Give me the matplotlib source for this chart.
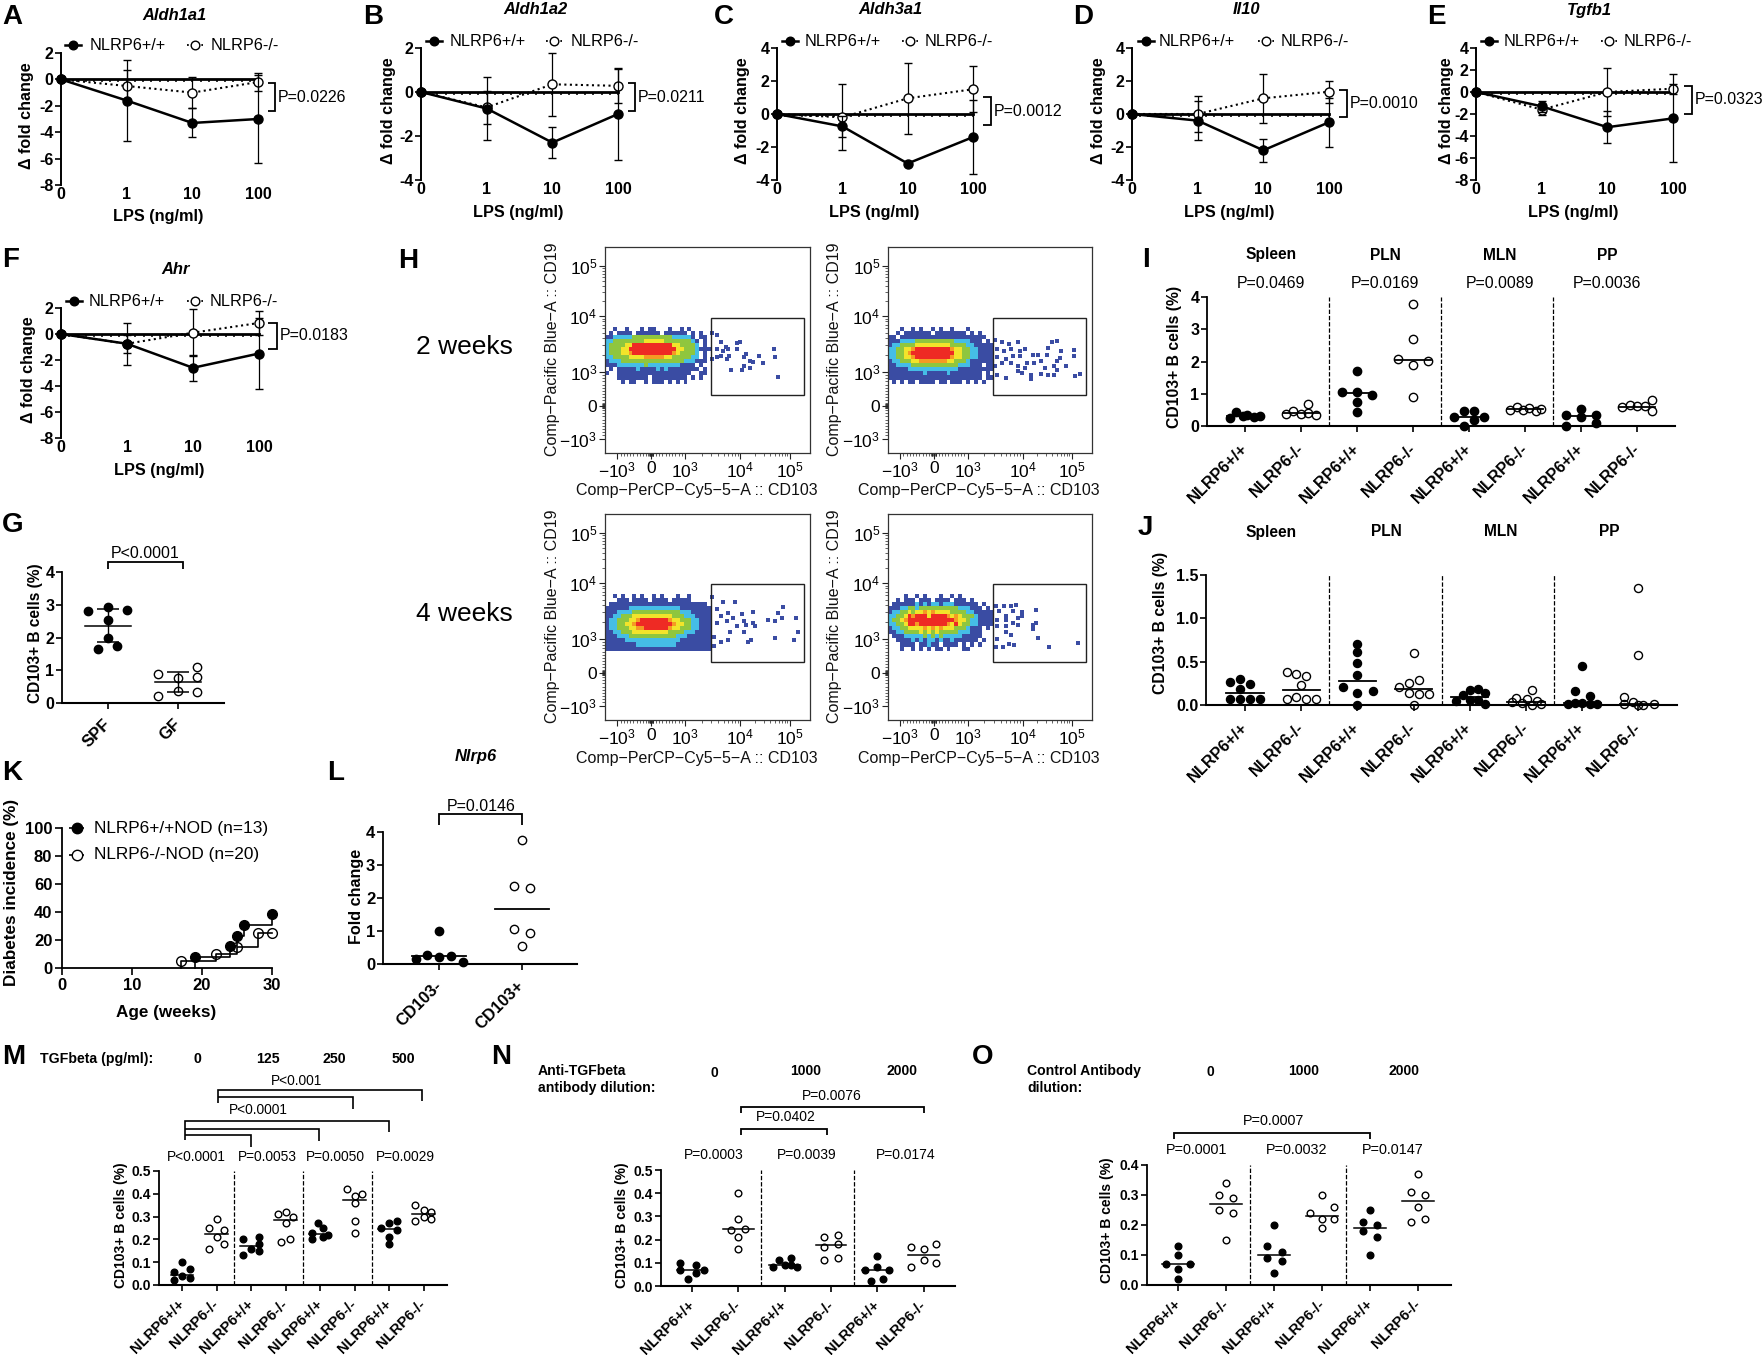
import numpy as np
import matplotlib
matplotlib.use("Agg")
import matplotlib.pyplot as plt
from matplotlib.colors import ListedColormap, BoundaryNorm
from matplotlib.lines import Line2D
from matplotlib.patches import Rectangle

plt.rcParams['font.family'] = ['Liberation Sans', 'DejaVu Sans']
plt.rcParams['mathtext.default'] = 'regular'

W = 1764
H = 1355

# LPS panels A-F
lps_doses = ['0', '1', '10', '100']
aldh1a1_wt = [0, -1.6, -3.3, -3.0]
aldh1a1_wt_err = [0, 3.05, 1.1, 3.3]
aldh1a1_ko = [0, -0.5, -1.0, -0.2]
aldh1a1_ko_err = [0, 1.2, 1.2, 0.7]
aldh1a2_wt = [0, -0.75, -2.3, -1.0]
aldh1a2_wt_err = [0, 1.42, 0.72, 2.07]
aldh1a2_ko = [0, -0.7, 0.35, 0.28]
aldh1a2_ko_err = [0, 0.75, 1.43, 0.78]
aldh3a1_wt = [0, -0.75, -3.0, -1.4]
aldh3a1_wt_err = [0, 0.65, 0.05, 2.25]
aldh3a1_ko = [0, -0.2, 0.95, 1.5]
aldh3a1_ko_err = [0, 2.0, 2.15, 1.4]
il10_wt = [0, -0.4, -2.2, -0.5]
il10_wt_err = [0, 1.2, 0.68, 1.5]
il10_ko = [0, 0, 0.95, 1.35]
il10_ko_err = [0, 1.1, 1.5, 0.68]
tgfb1_wt = [0, -1.3, -3.2, -2.4]
tgfb1_wt_err = [0, 0.5, 1.45, 4.0]
tgfb1_ko = [0, -1.6, 0, 0.3]
tgfb1_ko_err = [0, 0.5, 2.2, 0.45]
ahr_wt = [0, -0.75, -2.6, -1.5]
ahr_wt_err = [0, 1.6, 1.0, 2.7]
ahr_ko = [0, -0.75, 0.1, 0.85]
ahr_ko_err = [0, 0.7, 1.8, 0.95]

# panel G
spf_vals = [2.8, 1.65, 2.93, 2.52, 2.0, 1.75, 2.83]
spf_dx = [-0.28, -0.14, 0, 0, 0, 0.13, 0.27]
gf_vals = [0.9, 0.2, 0.75, 0.37, 1.1, 0.78, 0.33]
gf_dx = [-0.28, -0.28, 0, 0, 0.27, 0.27, 0.27]

# panel H, density levels (top row first)
density_1 = [
    "..1..1...1.11...1..1.1.....",
    ".1.1111.111111.111111.1.1..",
    "11222223333333333222221.11.",
    "223333333344444333333321.1.",
    "233334466666666664433332.1.",
    "233344666666666666443332111",
    "233344566666666665433332.1.",
    "223333444455555443333322.1.",
    "12223333333333333333222111.",
    "11122222223222222221111.1..",
    ".1.111112111121211111111.1.",
    "1..1111111111111111111..11.",
    "...11111111.111111111.1.1..",
    "....1.11..1.111.1.1.1......",
]
density_2 = [
    "...1..1.1..1.1..1...1......",
    "..1.1111111.11111111.1.1...",
    "11.1111111111111111111111..",
    "111222233333333332222111.1.",
    "122333344444444433332211111",
    "223344566666666654433221111",
    "223345666666666664433221111",
    "223344566666666654433221111",
    "122333445555555443332111111",
    "112222333333333333222111.11",
    "111112222222222222111111111",
    "111111111211111211111111.1.",
    "111111111111111111111111.11",
    ".1.1.11.1111.11.111.1.1.1..",
]
density_3 = [
    "..1.1..1.1..1.1...1..1.....",
    "...111.1111.1111.11111.....",
    ".1111111111111111111111111.",
    "111111222222222222211111111",
    "111222233333333333322211111",
    "112233344444444443332221111",
    "122333445666666654433322111",
    "122334456666666665443322111",
    "122333445566666654433322111",
    "112233344444444433332221111",
    "111222333333333333222111111",
    "111112222222222222211111111",
    "111111112222222222111111111",
    "111111111111111111111111111",
]
density_4 = [
    "....1..1.1...1..1.1........",
    "..1.111.111.1111.111.1.....",
    ".1111112121221222111111.1..",
    "111223323333333333222111.1.",
    "122334344545444433332211111",
    "223346566646666545433321111",
    "233456666666666665443221111",
    "223346656666666546433221111",
    "122334444545454443332111.1.",
    "112233334343433333222111...",
    ".11122222323232222211111...",
    "..111121212212112111111.1..",
    "...1111.11211.1111.1.1.1...",
    "...1..1.1.1.11.1...11......",
]
flow_x_1 = [521, 548, 566, 588, 644, 660, 544, 577, 600, 566, 593, 644, 678, 689, 749, 705, 723, 772, 823, 828, 615, 667, 678, 705, 846, 544, 521, 606]
flow_y_1 = [581, 573, 539, 514, 534, 539, 506, 497, 506, 472, 456, 506, 464, 481, 472, 447, 444, 439, 503, 467, 405, 405, 422, 414, 369, 464, 456, 472]
flow_x_2 = [524, 557, 591, 636, 535, 569, 602, 647, 670, 535, 580, 613, 647, 524, 557, 602, 636, 670, 681, 710, 737, 715, 748, 782, 804, 827, 849, 778, 845, 827, 816, 872, 912, 912, 771, 827, 917, 939, 658, 703, 748, 782, 535, 580, 636, 703, 816]
flow_y_2 = [548, 539, 531, 539, 506, 497, 506, 497, 506, 464, 456, 472, 472, 422, 439, 439, 422, 414, 439, 477, 477, 439, 447, 511, 539, 544, 494, 477, 459, 447, 422, 422, 501, 472, 414, 405, 372, 384, 389, 380, 384, 377, 380, 363, 397, 360, 377]
flow_x_3 = [521, 577, 633, 544, 566, 600, 622, 667, 723, 678, 723, 689, 644, 593, 544, 611, 678, 734, 796, 830, 846, 868, 861, 931, 940, 830, 924, 711, 696, 600, 566, 532, 532]
flow_y_3 = [597, 571, 571, 538, 504, 521, 496, 513, 526, 479, 471, 462, 454, 479, 471, 429, 429, 454, 484, 479, 521, 550, 496, 496, 429, 400, 390, 387, 378, 390, 378, 361, 403]
flow_x_4 = [530, 569, 602, 629, 546, 580, 613, 658, 726, 535, 580, 636, 658, 535, 580, 613, 636, 710, 726, 710, 580, 602, 737, 535, 591, 620, 530, 562, 789, 930]
flow_y_4 = [555, 555, 551, 558, 529, 504, 529, 524, 534, 487, 487, 496, 504, 454, 454, 471, 462, 462, 471, 440, 429, 412, 400, 395, 370, 365, 353, 356, 353, 375]
flow_tick_x = [60, 224, 390, 660, 900]
flow_tick_y = [70, 229, 394, 665, 908]
flow_x_labels = ['$-10^{3}$', '0', '$10^{3}$', '$10^{4}$', '$10^{5}$']

# panel I
tissues = ['Spleen', 'PLN', 'MLN', 'PP']
genotypes = ['NLRP6+/+', 'NLRP6-/-']
i_vals = [
    [.25, .42, .3, .33, .27, .3],
    [.37, .47, .37, .4, .67, .33],
    [1.05, 1.72, 1.05, .75, .95, .43],
    [2.08, 3.78, 2.7, 1.88, 2.03, .9],
    [.27, .45, 0, .47, .27, .2],
    [.5, .6, .5, .55, .47, .52],
    [.35, 0, .53, .28, .35, .08],
    [.58, .65, .62, .62, .82, .47],
]
i_dx = [
    [-.27, -.16, -.04, .04, .16, .26],
    [-.27, -.14, 0, .13, .13, .26],
    [-.27, 0, 0, 0, .26, 0],
    [-.26, 0, 0, 0, .27, 0],
    [-.26, -.09, -.09, .09, .26, .09],
    [-.27, -.14, -.03, .08, .19, .28],
    [-.26, -.26, 0, 0, .27, .27],
    [-.27, -.13, 0, .14, .27, .27],
]
i_medians = [.3, .4, 1.02, 2.05, .27, .52, .31, .6]
i_pvals = ['P=0.0469', 'P=0.0169', 'P=0.0089', 'P=0.0036']

# panel J
j_vals = [
    [.27, .3, .24, .19, .07, .07, .07, .07],
    [.38, .36, .33, .23, .07, .09, .07, .07],
    [.7, .61, .48, .35, .21, .14, .16, 0],
    [.6, .29, .25, .21, .14, .13, .13, 0],
    [.05, .11, .17, .19, .14, .06, .06, .01],
    [.17, .08, .07, .05, .03, .02, 0, .01],
    [.45, .16, .1, .01, .02, .02, .01, .01],
    [1.35, .58, .09, .01, .03, 0, 0, .01],
]
j_dx = [
    [-.26, -.09, .09, -.09, -.26, -.09, .09, .27],
    [-.26, -.09, .09, 0, -.26, -.09, .09, .26],
    [0, 0, 0, 0, -.26, 0, .27, 0],
    [0, .09, -.09, -.26, -.09, .09, .27, 0],
    [-.25, -.12, 0, .14, .27, 0, .14, .27],
    [.1, -.17, .01, .19, -.25, -.07, .1, .27],
    [0, -.13, .14, -.26, -.13, 0, .14, .27],
    [0, 0, -.26, -.26, -.09, 0, .09, .27],
]
j_medians = [.14, .17, .28, .19, .09, .03, .02, .01]

# panel K
wt_age = [19, 24, 25, 26, 30]
wt_incidence = [7.7, 15.4, 23.1, 30.8, 38.5]
ko_age = [17, 22, 25, 28, 30]
ko_incidence = [5, 10, 15, 25, 25]

# panel L
cd103_neg = [.14, .28, .22, 1.0, .23, .07]
cd103_neg_dx = [-.28, -.14, 0, 0, .14, .29]
cd103_pos = [3.75, 2.35, 2.29, 1.05, .93, .54]
cd103_pos_dx = [0, -.1, .1, -.1, .1, 0]
cd103_lines = [.24, 1.67]

# panel M
m_vals = [
    [.1, .055, .07, .04, .02, .03],
    [.29, .25, .24, .21, .18, .16],
    [.2, .21, .18, .16, .15, .13],
    [.31, .32, .3, .27, .2, .19],
    [.27, .23, .25, .2, .21, .22],
    [.42, .4, .39, .36, .28, .23],
    [.25, .27, .28, .24, .21, .18],
    [.35, .33, .32, .3, .28, .29],
]
m_dx = [
    [0, -.23, .23, 0, -.23, .23],
    [0, -.23, .23, 0, .23, -.23],
    [-.23, .23, .23, 0, .23, -.23],
    [-.23, 0, .23, 0, .12, -.12],
    [-.07, -.23, .09, -.23, .09, .24],
    [-.22, .23, 0, 0, 0, 0],
    [-.23, 0, .24, .24, 0, 0],
    [-.24, 0, .23, 0, -.24, .23],
]
m_medians = [.045, .225, .17, .285, .225, .375, .245, .31]
m_pvals = ['P<0.0001', 'P=0.0053', 'P=0.0050', 'P=0.0029']
m_doses = ['0', '125', '250', '500']

# panel N
n_vals = [
    [.1, .09, .07, .07, .055, .03],
    [.4, .29, .24, .245, .21, .16],
    [.11, .12, .08, .09, .09, .08],
    [.21, .22, .17, .18, .11, .12],
    [.13, .07, .08, .07, .02, .03],
    [.17, .16, .18, .11, .1, .08],
]
n_dx = [
    [-.26, .09, -.26, .26, .09, -.09],
    [0, 0, -.15, .15, 0, 0],
    [-.13, .13, -.26, 0, .13, .26],
    [-.15, .15, -.15, .15, -.15, .15],
    [0, -.26, 0, .26, -.13, .13],
    [-.26, 0, .26, 0, .26, -.26],
]
n_medians = [.07, .245, .09, .175, .07, .135]
n_pvals = ['P=0.0003', 'P=0.0039', 'P=0.0174']

# panel O
o_vals = [
    [.13, .1, .07, .07, .055, .02],
    [.34, .3, .29, .25, .24, .15],
    [.2, .13, .11, .09, .08, .04],
    [.3, .26, .24, .22, .22, .19],
    [.25, .21, .2, .18, .16, .1],
    [.37, .31, .3, .26, .22, .21],
]
o_dx = [
    [0, 0, -.26, .26, 0, 0],
    [0, -.15, .15, -.15, .15, 0],
    [0, -.15, .16, -.15, .16, 0],
    [0, .26, -.26, 0, .26, 0],
    [0, -.15, .15, -.15, .15, 0],
    [0, -.15, .15, 0, .15, -.15],
]
o_medians = [.07, .27, .1, .23, .19, .28]
o_pvals = ['P=0.0001', 'P=0.0032', 'P=0.0147']
dilutions = ['0', '1000', '2000']

fig = plt.figure(figsize=(W / 100, H / 100), dpi=100, facecolor='white')


def add_ax(left, top, right, bottom):
    ax = fig.add_axes([left / W, 1 - bottom / H, (right - left) / W, (bottom - top) / H])
    ax.patch.set_alpha(0)
    return ax


def txt(x, y, s, size=11.5, weight='normal', ha='center', va='center', **kw):
    fig.text(x / W, 1 - y / H, s, fontsize=size, fontweight=weight, ha=ha, va=va, **kw)


def seg(xs, ys, lw=1.2, **kw):
    fig.add_artist(Line2D([x / W for x in xs], [1 - y / H for y in ys], color='k', lw=lw,
                          solid_joinstyle='miter', solid_capstyle='butt', **kw))


def bracket(x0, x1, y, d0, d1=None, lw=1.3):
    if d1 is None:
        d1 = d0
    seg([x0, x0, x1, x1], [y + d0, y, y, y + d1], lw=lw)


def set_ylabel_px(ax, box, s, x, y, size):
    ax.set_ylabel(s, fontsize=size, fontweight='bold', va='center')
    ax.yaxis.set_label_coords((x - box[0]) / (box[2] - box[0]), (box[3] - y) / (box[3] - box[1]))


def letter(x, y, s):
    txt(x, y, s, size=20, weight='bold', ha='left')


def legend_pair(y, m1, t1, m2, t2):
    fig.add_artist(Line2D([(m1 - 8) / W, (m1 + 8) / W], [1 - y / H] * 2, color='k', lw=1.8))
    fig.add_artist(Line2D([m1 / W], [1 - y / H], color='k', marker='o', ms=6.2))
    fig.add_artist(Line2D([(m2 - 8) / W, (m2 + 8) / W], [1 - y / H] * 2, color='k', lw=1.3, ls=':'))
    fig.add_artist(Line2D([m2 / W], [1 - y / H], color='k', marker='o', ms=6.2, mfc='white', mew=1))
    txt(t1, y, 'NLRP6+/+', ha='left', size=11.7)
    txt(t2, y, 'NLRP6-/-', ha='left', size=11.7)


def lps_panel(box, ylim, yticks, wt, wt_err, ko, ko_err, title, title_xy, ylab_x, legend, brk, p):
    ax = add_ax(*box)
    xs = np.arange(len(lps_doses))
    ax.errorbar(xs, ko, yerr=ko_err, color='k', lw=1.5, ls=':', marker='o', ms=6.5, mfc='white',
                mew=1, elinewidth=0.9, capsize=3, capthick=1, clip_on=False, zorder=3)
    ax.errorbar(xs, wt, yerr=wt_err, color='k', lw=1.8, marker='o', ms=6.5, elinewidth=0.9,
                capsize=3, capthick=1, clip_on=False, zorder=4)
    ax.set_xlim(0, 3)
    ax.set_ylim(*ylim)
    ax.set_yticks(yticks)
    ax.set_yticklabels([str(v) for v in yticks], fontsize=11.5, fontweight='bold')
    for side in ['top', 'right']:
        ax.spines[side].set_visible(False)
    ax.spines['left'].set_linewidth(1.4)
    ax.spines['bottom'].set_position(('data', 0))
    ax.spines['bottom'].set_linewidth(2.0)
    ax.set_xticks(np.arange(0, 3.01, 0.125))
    ax.set_xticklabels([])
    ax.tick_params(axis='x', length=2.4, width=1.1, direction='out')
    ax.tick_params(axis='y', length=4, width=1.2, pad=1.5)
    ax_h = box[3] - box[1]
    for x, lab in zip(xs, lps_doses):
        ax.text(x, -9.5 / ax_h, lab, transform=ax.get_xaxis_transform(), ha='center', va='center',
                fontsize=11.5, fontweight='bold')
    txt((box[0] + box[2]) / 2 - 1, box[3] + 32, 'LPS (ng/ml)', size=11.7, weight='bold')
    set_ylabel_px(ax, box, '\u0394 fold change', ylab_x, (box[1] + box[3]) / 2 - 3, 11.6)
    txt(title_xy[0], title_xy[1], title, size=11.9, weight='bold', style='italic')
    legend_pair(*legend)
    seg([brk[0], brk[1], brk[1], brk[0]], [brk[2], brk[2], brk[3], brk[3]], lw=1.3)
    txt(brk[1] + 3, (brk[2] + brk[3]) / 2, p, ha='left', size=11.5)


lps_panel((61, 53, 258, 185), (-8, 2), [2, 0, -2, -4, -6, -8], aldh1a1_wt, aldh1a1_wt_err, aldh1a1_ko,
          aldh1a1_ko_err, 'Aldh1a1', (174, 15), 27, (45, 73, 90, 195, 211), (268, 275, 83, 111), 'P=0.0226')
lps_panel((421, 48, 618, 180), (-4, 2), [2, 0, -2, -4], aldh1a2_wt, aldh1a2_wt_err, aldh1a2_ko,
          aldh1a2_ko_err, 'Aldh1a2', (535, 10), 388, (41, 434, 450, 554, 571), (628, 635, 83, 111), 'P=0.0211')
lps_panel((777, 48, 973, 180), (-4, 4), [4, 2, 0, -2, -4], aldh3a1_wt, aldh3a1_wt_err, aldh3a1_ko,
          aldh3a1_ko_err, 'Aldh3a1', (890, 10), 743, (41, 790, 805, 910, 925), (983, 991, 97, 125), 'P=0.0012')
lps_panel((1132, 48, 1329, 180), (-4, 4), [4, 2, 0, -2, -4], il10_wt, il10_wt_err, il10_ko,
          il10_ko_err, 'Il10', (1246, 10), 1098, (41, 1146, 1159, 1266, 1281), (1339, 1347, 90, 117), 'P=0.0010')
lps_panel((1476, 48, 1673, 180), (-8, 4), [4, 2, 0, -2, -4, -6, -8], tgfb1_wt, tgfb1_wt_err, tgfb1_ko,
          tgfb1_ko_err, 'Tgfb1', (1589, 10), 1446, (41, 1489, 1504, 1609, 1624), (1684, 1692, 86, 114), 'P=0.0323')
lps_panel((61, 308, 259, 438), (-8, 2), [2, 0, -2, -4, -6, -8], ahr_wt, ahr_wt_err, ahr_ko,
          ahr_ko_err, 'Ahr', (176, 269), 28, (301, 74, 89, 195, 210), (268, 277, 323, 349), 'P=0.0183')

for x, y, s in [(2, 17, 'A'), (363, 17, 'B'), (714, 17, 'C'), (1073, 17, 'D'), (1427, 17, 'E'), (2, 260, 'F'),
                (2, 525, 'G'), (398, 261, 'H'), (1142, 260, 'I'), (1138, 528, 'J'), (2, 773, 'K'), (327, 773, 'L'),
                (2, 1057, 'M'), (491, 1057, 'N'), (972, 1057, 'O')]:
    letter(x, y, s)


def dot_panel(box, ticks0, spacing, ylim, yticks, ylabels, vals, dx, medians, labels, dividers, tick_size,
              lab_size, ms, lw=1.3, half=0.33, lab_pad=8.5):
    ax = add_ax(*box)
    for i, (ys, off) in enumerate(zip(vals, dx)):
        filled = i % 2 == 0
        ax.plot(i + np.array(off), ys, ls='none', marker='o', ms=ms, mew=1.0, color='k',
                mfc='k' if filled else 'none', clip_on=False, zorder=3)
        ax.plot([i - half, i + half], [medians[i], medians[i]], color='k', lw=lw, zorder=4)
    for d in dividers:
        ax.axvline(d, color='k', lw=0.9, ls=(0, (3.5, 1.5)), ymin=0, ymax=1)
    ax.set_xlim((box[0] - ticks0) / spacing, (box[2] - ticks0) / spacing)
    ax.set_ylim(*ylim)
    ax.set_yticks(yticks)
    ax.set_yticklabels(ylabels, fontsize=tick_size, fontweight='bold')
    ax.set_xticks(range(len(labels)))
    ax.set_xticklabels(labels, rotation=45, ha='right', va='center', rotation_mode='anchor',
                       fontsize=lab_size, fontweight='bold')
    for side in ['top', 'right']:
        ax.spines[side].set_visible(False)
    ax.spines['left'].set_linewidth(1.3)
    ax.spines['bottom'].set_linewidth(1.5)
    ax.tick_params(axis='y', length=4, width=1.2, pad=1.5)
    ax.tick_params(axis='x', length=4, width=1.2, pad=lab_pad)
    return ax


# panel G
box = (62, 572, 224, 703)
ax = add_ax(*box)
ax.plot(np.array(spf_dx), spf_vals, 'o', color='k', ms=6, clip_on=False, zorder=3)
ax.plot(1 + np.array(gf_dx), gf_vals, 'o', color='k', mfc='none', ms=6, mew=1, clip_on=False, zorder=3)
ax.errorbar([0], [np.mean(spf_vals)], yerr=[np.std(spf_vals)], color='k', elinewidth=1, capsize=8, capthick=1.1)
ax.errorbar([1], [np.mean(gf_vals)], yerr=[np.std(gf_vals)], color='k', elinewidth=1, capsize=8, capthick=1.1)
ax.plot([-.33, .33], [np.mean(spf_vals)] * 2, color='k', lw=1.1)
ax.plot([1 - .33, 1 + .33], [np.mean(gf_vals)] * 2, color='k', lw=1.1)
ax.set_xlim((62 - 108) / 70, (224 - 108) / 70)
ax.set_ylim(0, 4)
ax.set_yticks([0, 1, 2, 3, 4])
ax.set_yticklabels(['0', '1', '2', '3', '4'], fontsize=11.5, fontweight='bold')
ax.set_xticks([0, 1])
ax.set_xticklabels(['SPF', 'GF'], rotation=45, ha='right', va='center', rotation_mode='anchor',
                   fontsize=12, fontweight='bold')
for side in ['top', 'right']:
    ax.spines[side].set_visible(False)
ax.spines['left'].set_linewidth(1.3)
ax.spines['bottom'].set_linewidth(1.5)
ax.tick_params(axis='y', length=4, width=1.2, pad=1.5)
ax.tick_params(axis='x', length=4, width=1.2, pad=9.5)
set_ylabel_px(ax, box, 'CD103+ B cells (%)', 36, 633, 11.2)
bracket(108, 183, 562, 7)
txt(145, 554, 'P<0.0001')

# panel H
density_cmap = ListedColormap(['#ffffff', '#3a4ca3', '#45bde6', '#8fc63e', '#f2e42a', '#f59a23', '#ee2a24'])
density_norm = BoundaryNorm(np.arange(-0.5, 7.5, 1), density_cmap.N)


def flow_panel(box, density, xs, ys, gate_top):
    ax = add_ax(*box)
    grid = np.array([[0 if c == '.' else int(c) for c in row.ljust(27, '.')] for row in density[::-1]])
    ax.pcolormesh(np.linspace(0, 517, 28), np.linspace(337, 612, 15), grid, cmap=density_cmap, norm=density_norm,
                  rasterized=True)
    ax.scatter(xs, ys, marker='s', s=5, color='#3a4ca3', lw=0)
    ax.add_patch(Rectangle((517, 282), 454, gate_top - 282, fill=False, ec='#222222', lw=1.0))
    ax.set_xlim(0, 1000)
    ax.set_ylim(0, 1000)
    ax.set_xticks(flow_tick_x)
    ax.set_xticklabels(flow_x_labels, fontsize=12.5)
    ax.set_yticks(flow_tick_y)
    ax.set_yticklabels(flow_x_labels, fontsize=12.5)
    minor_x = []
    minor_y = []
    for ticks, out in [(flow_tick_x, minor_x), (flow_tick_y, minor_y)]:
        for a, b in zip(ticks[2:-1], ticks[3:]):
            out.extend(a + (b - a) * np.log10(np.arange(2, 10)))
        out.extend(np.linspace(ticks[0], ticks[2], 22))
        out.extend(ticks[1] + np.arange(-12, 13, 3))
    ax.set_xticks(minor_x, minor=True)
    ax.set_yticks(minor_y, minor=True)
    ax.tick_params(axis='both', which='major', length=4, width=0.8, pad=1.5, color='#222222')
    ax.tick_params(axis='both', which='minor', length=2, width=0.5, color='#222222')
    for sp in ax.spines.values():
        sp.set_linewidth(0.9)
        sp.set_color('#333333')
    txt((box[0] + box[2]) / 2 - 11, box[3] + 38, 'Comp\u2212PerCP\u2212Cy5\u22125\u2212A :: CD103', size=11.5, color='#111111')
    txt(box[0] - 53, (box[1] + box[3]) / 2 - 1, 'Comp\u2212Pacific Blue\u2212A :: CD19', size=11.5, rotation=90,
        color='#111111')


flow_panel((605, 247, 810, 453), density_1, flow_x_1, flow_y_1, 655)
flow_panel((888, 247, 1092, 453), density_2, flow_x_2, flow_y_2, 655)
flow_panel((605, 514, 810, 720), density_3, flow_x_3, flow_y_3, 660)
flow_panel((888, 514, 1092, 720), density_4, flow_x_4, flow_y_4, 660)
txt(464, 347, '2 weeks', size=19)
txt(464, 614, '4 weeks', size=19)

# panel I
box = (1207, 297, 1675, 426)
ax = dot_panel(box, 1245, 56, (0, 4), [0, 1, 2, 3, 4], ['0', '1', '2', '3', '4'], i_vals, i_dx, i_medians,
               genotypes * 4, [1.5, 3.5, 5.5], 11.5, 11.8, 6, lab_pad=10.5)
set_ylabel_px(ax, box, 'CD103+ B cells (%)', 1174, 357, 11.3)
for x, t, p in zip([1271, 1385, 1500, 1607], tissues, i_pvals):
    txt(x, 255, t, size=11.2, weight='bold')
    txt(x, 284, p, size=11.4)

# panel J
box = (1206, 575, 1677, 705)
ax = dot_panel(box, 1245, 56.2, (0, 1.5), [0, .5, 1, 1.5], ['0.0', '0.5', '1.0', '1.5'], j_vals, j_dx, j_medians,
               genotypes * 4, [1.5, 3.5, 5.5], 11.5, 11.8, 5.8, lab_pad=10.5)
set_ylabel_px(ax, box, 'CD103+ B cells (%)', 1160, 623, 11.3)
for x, t in zip([1271, 1386, 1501, 1609], tissues):
    txt(x, 532, t, size=11.2, weight='bold')

# panel K
box = (62, 828, 272, 968)
ax = add_ax(*box)
ax.step([wt_age[0]] + wt_age, [0] + wt_incidence, where='post', color='k', lw=1.2, clip_on=False)
ax.step([ko_age[0]] + ko_age, [0] + ko_incidence, where='post', color='k', lw=1.2, clip_on=False)
ax.plot(wt_age, wt_incidence, 'o', color='k', ms=7, ls='none', clip_on=False, zorder=3)
ax.plot(ko_age, ko_incidence, 'o', color='k', mfc='none', mew=1, ms=7, ls='none', clip_on=False, zorder=4)
ax.set_xlim(0, 30)
ax.set_ylim(0, 100)
ax.set_xticks([0, 10, 20, 30])
ax.set_xticklabels(['0', '10', '20', '30'], fontsize=12, fontweight='bold')
ax.set_yticks([0, 20, 40, 60, 80, 100])
ax.set_yticklabels(['0', '20', '40', '60', '80', '100'], fontsize=12, fontweight='bold')
for side in ['top', 'right']:
    ax.spines[side].set_visible(False)
ax.spines['left'].set_linewidth(1.3)
ax.spines['bottom'].set_linewidth(1.3)
ax.tick_params(length=5, width=1.2, pad=2)
set_ylabel_px(ax, box, 'Diabetes incidence (%)', 11.5, 892, 12.3)
txt(166, 1012, 'Age (weeks)', size=12.3, weight='bold')
seg([69, 84], [828, 828], lw=1.2)
fig.add_artist(Line2D([76.5 / W], [1 - 828 / H], marker='o', ms=7.5, color='k'))
seg([69, 84], [855, 855], lw=1.2)
fig.add_artist(Line2D([76.5 / W], [1 - 855 / H], marker='o', ms=7.5, color='k', mfc='white', mew=1))
txt(94, 828, 'NLRP6+/+NOD (n=13)', ha='left', size=12.4)
txt(94, 855, 'NLRP6-/-NOD (n=20)', ha='left', size=12.4)

# panel L
box = (383, 832, 577, 964)
ax = dot_panel(box, 439, 83, (0, 4), [0, 1, 2, 3, 4], ['0', '1', '2', '3', '4'], [cd103_neg, cd103_pos],
               [cd103_neg_dx, cd103_pos_dx], cd103_lines, ['CD103-', 'CD103+'], [], 12, 12, 6, half=0.33, lab_pad=10)
set_ylabel_px(ax, box, 'Fold change', 356, 896, 11.6)
txt(476, 756, 'Nlrp6', size=11.9, weight='bold', style='italic')
bracket(439, 522, 814, 11)
txt(481, 806, 'P=0.0146')

# panel M
box = (159, 1171, 447, 1285)
ax = dot_panel(box, 182, 34.5, (0, .5), [0, .1, .2, .3, .4, .5], ['0.0', '0.1', '0.2', '0.3', '0.4', '0.5'], m_vals,
               m_dx, m_medians, genotypes * 4, [1.5, 3.5, 5.5], 10, 10.6, 4.8, lw=1.1)
set_ylabel_px(ax, box, 'CD103+ B cells (%)', 121, 1225, 10)
txt(40, 1059, 'TGFbeta (pg/ml):', size=10.2, weight='bold', ha='left')
for x, d in zip([197, 268, 334, 403], m_doses):
    txt(x, 1059, d, size=10.2, weight='bold')
for x, p in zip([196, 267, 335, 405], m_pvals):
    txt(x, 1157, p, size=9.9)
seg([218, 218, 422, 422], [1103, 1090, 1090, 1101])
seg([218, 353, 353], [1097, 1097, 1109])
seg([185, 185, 389, 389], [1140, 1121, 1121, 1132])
seg([185, 319, 319], [1129, 1129, 1141])
seg([185, 251, 251], [1135, 1135, 1147])
txt(297, 1081, 'P<0.001', size=9.9)
txt(258, 1110, 'P<0.0001', size=9.9)

# panel N
box = (661, 1170, 955, 1286)
ax = dot_panel(box, 692, 46.3, (0, .5), [0, .1, .2, .3, .4, .5], ['0.0', '0.1', '0.2', '0.3', '0.4', '0.5'], n_vals,
               n_dx, n_medians, genotypes * 3, [1.5, 3.5], 10, 10.6, 4.8, lw=1.1)
set_ylabel_px(ax, box, 'CD103+ B cells (%)', 622, 1225, 10)
txt(538, 1071, 'Anti-TGFbeta', size=10.1, weight='bold', ha='left')
txt(538, 1088, 'antibody dilution:', size=10.1, weight='bold', ha='left')
for x, y, d in zip([714, 806, 902], [1073, 1071, 1071], dilutions):
    txt(x, y, d, size=10.1, weight='bold')
for x, p in zip([714, 807, 906], n_pvals):
    txt(x, 1155, p, size=10)
bracket(741, 924, 1107, 6)
bracket(741, 827, 1129, 6)
txt(832, 1096, 'P=0.0076', size=10)
txt(786, 1117, 'P=0.0402', size=10)

# panel O
box = (1147, 1165, 1451, 1285)
ax = dot_panel(box, 1178, 48, (0, .4), [0, .1, .2, .3, .4], ['0.0', '0.1', '0.2', '0.3', '0.4'], o_vals,
               o_dx, o_medians, genotypes * 3, [1.5, 3.5], 10, 10.6, 4.8, lw=1.1)
set_ylabel_px(ax, box, 'CD103+ B cells (%)', 1107, 1220, 10)
txt(1027, 1071, 'Control Antibody', size=10.1, weight='bold', ha='left')
txt(1027, 1088, 'dilution:', size=10.1, weight='bold', ha='left')
for x, y, d in zip([1210, 1304, 1404], [1072, 1071, 1071], dilutions):
    txt(x, y, d, size=10.1, weight='bold')
for x, p in zip([1197, 1297, 1393], o_pvals):
    txt(x, 1150, p, size=10.4)
bracket(1174, 1370, 1133, 6)
txt(1274, 1121, 'P=0.0007', size=10.4)

fig.savefig('out.png', dpi=100)
